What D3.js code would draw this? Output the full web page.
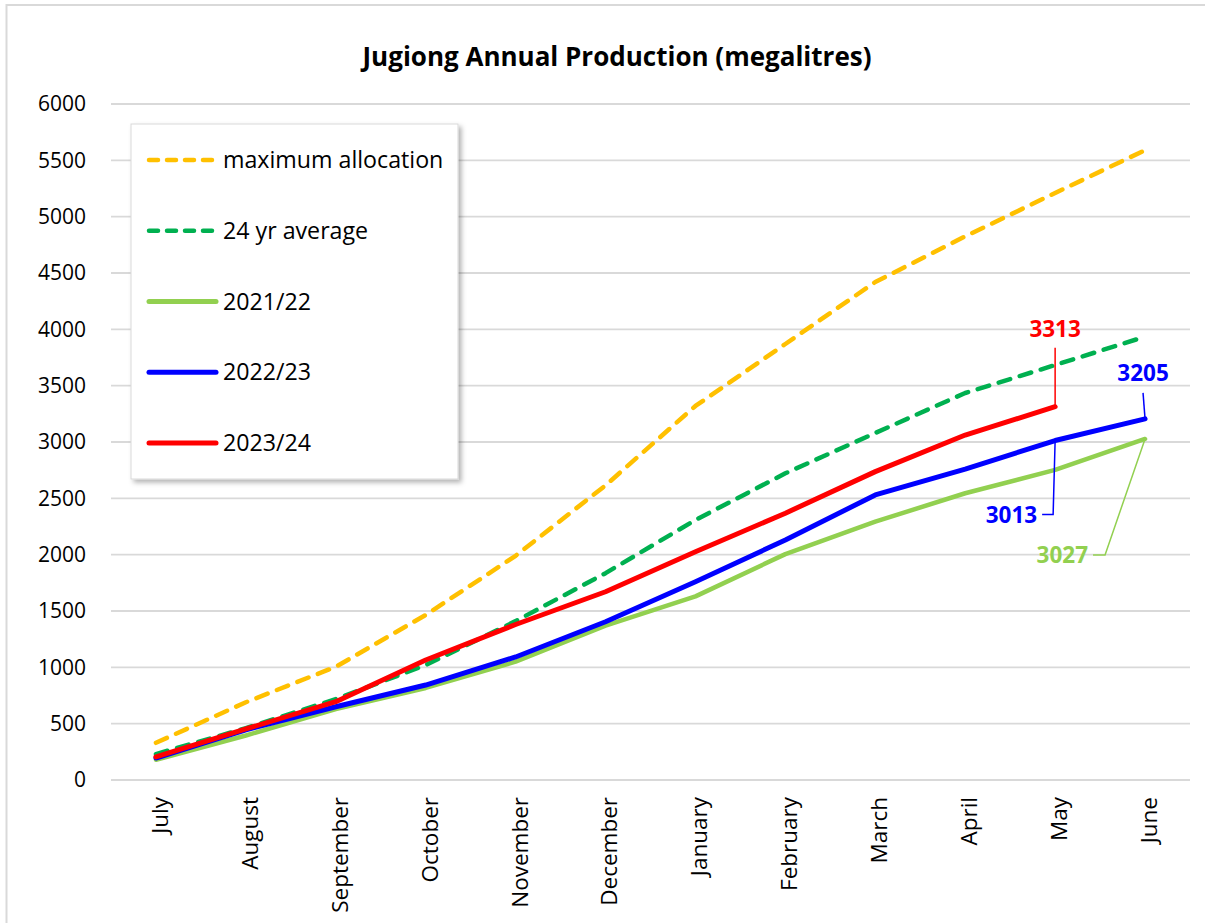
<!DOCTYPE html>
<html>
<head>
<meta charset="utf-8">
<script src="https://cdn.jsdelivr.net/npm/d3@7"></script>
<style>
  html, body { margin: 0; padding: 0; background: #fff; }
  svg { display: block; }
  text { font-family: "Open Sans", "Liberation Sans", sans-serif; }
</style>
</head>
<body>
<svg id="chart" width="1205" height="923"></svg>
<script>
const months = ["July","August","September","October","November","December","January","February","March","April","May","June"];
const yTicks = [0,500,1000,1500,2000,2500,3000,3500,4000,4500,5000,5500,6000];
const maxAllocation = [330, 690, 1005, 1465, 1990, 2615, 3320, 3870, 4420, 4825, 5210, 5590];
const avg24 = [230, 460, 718, 1020, 1410, 1836, 2308, 2722, 3080, 3435, 3683, 3935];
const y2021_22 = [180, 395, 630, 817, 1050, 1370, 1630, 2005, 2293, 2545, 2752, 3027];
const y2022_23 = [195, 445, 650, 843, 1092, 1405, 1760, 2130, 2530, 2760, 3013, 3205];
const y2023_24 = [205, 453, 695, 1065, 1380, 1671, 2026, 2368, 2737, 3062, 3313];
const seriesNames = ["maximum allocation", "24 yr average", "2021/22", "2022/23", "2023/24"];
const title = "Jugiong Annual Production (megalitres)";

const svg = d3.select("#chart");
const plot = {left: 111, right: 1190, top: 104, bottom: 780};

// outer chart border
svg.append("rect").attr("x", 6.5).attr("y", 5).attr("width", 1300).attr("height", 1000)
  .attr("fill", "#fff").attr("stroke", "#d9d9d9").attr("stroke-width", 2);

const x = d3.scaleBand().domain(months).range([plot.left, plot.right]);
const y = d3.scaleLinear().domain([0, 6000]).range([plot.bottom, plot.top]);
const cx = m => x(m) + x.bandwidth() / 2;

// gridlines
svg.append("g").selectAll("line").data(yTicks).join("line")
  .attr("x1", plot.left).attr("x2", plot.right)
  .attr("y1", d => y(d)).attr("y2", d => y(d))
  .attr("stroke", "#d9d9d9").attr("stroke-width", 1.8);

// y axis labels
const yAxis = d3.axisLeft(y).tickValues(yTicks).tickSize(0).tickPadding(0).tickFormat(d3.format("d"));
const yg = svg.append("g").attr("transform", `translate(${plot.left - 25},0)`).call(yAxis);
yg.select(".domain").remove();
yg.selectAll("text").attr("font-size", 21).attr("fill", "#000")
  .style("font-family", '"Open Sans", sans-serif');

// x axis labels
const xAxis = d3.axisBottom(x).tickSize(0).tickPadding(0);
const xg = svg.append("g").attr("transform", `translate(0,${plot.bottom})`).call(xAxis);
xg.select(".domain").remove();
xg.selectAll("text")
  .attr("font-size", 22.5).attr("fill", "#000")
  .style("font-family", '"Open Sans", sans-serif')
  .attr("text-anchor", "end")
  .attr("transform", "translate(4,17) rotate(-90)")
  .attr("x", 0).attr("y", 0).attr("dy", "0.35em");

// lines
const line = d3.line().x((d, i) => cx(months[i])).y(d => y(d));
const series = [
  {name: seriesNames[0], data: maxAllocation, color: "#FFC000", dash: "12,10", width: 4.5},
  {name: seriesNames[1], data: avg24, color: "#00B050", dash: "12,10", width: 4.5},
  {name: seriesNames[2], data: y2021_22, color: "#92D050", dash: null, width: 4.5},
  {name: seriesNames[3], data: y2022_23, color: "#0000FF", dash: null, width: 5},
  {name: seriesNames[4], data: y2023_24, color: "#FF0000", dash: null, width: 5},
];
svg.append("g").selectAll("path").data(series).join("path")
  .attr("d", s => line(s.data))
  .attr("fill", "none")
  .attr("stroke", s => s.color)
  .attr("stroke-width", s => s.width)
  .attr("stroke-dasharray", s => s.dash)
  .attr("stroke-linecap", "round")
  .attr("stroke-linejoin", "round");

// data labels with leader lines
const labels = [
  {value: y2023_24[10], month: "May", color: "#FF0000",
   leader: [[0,0],[0,-59]], tx: 0, ty: -70, anchor: "middle"},
  {value: y2022_23[11], month: "June", color: "#0000FF",
   leader: [[0,0],[-2,-26]], tx: -2, ty: -38, anchor: "middle"},
  {value: y2022_23[10], month: "May", color: "#0000FF",
   leader: [[0,0],[-2,74],[-13,74]], tx: -18, ty: 82, anchor: "end"},
  {value: y2021_22[11], month: "June", color: "#92D050",
   leader: [[0,0],[-40,116],[-52,116]], tx: -57, ty: 124, anchor: "end"},
];
const lg = svg.append("g");
labels.forEach(l => {
  const px = cx(l.month), py = y(l.value);
  lg.append("path")
    .attr("d", d3.line()(l.leader.map(p => [px + p[0], py + p[1]])))
    .attr("fill", "none").attr("stroke", l.color).attr("stroke-width", 1.5);
  lg.append("text")
    .attr("x", px + l.tx).attr("y", py + l.ty)
    .attr("text-anchor", l.anchor)
    .attr("font-size", 22.5).attr("font-weight", "bold").attr("fill", l.color)
    .text(l.value);
});

// title
svg.append("text").attr("x", 617).attr("y", 66).attr("text-anchor", "middle")
  .attr("font-size", 26).attr("font-weight", "bold").attr("fill", "#000")
  .text(title);

// legend
const defs = svg.append("defs");
const f = defs.append("filter").attr("id", "shadow").attr("x", "-10%").attr("y", "-10%").attr("width", "130%").attr("height", "130%");
f.append("feDropShadow").attr("dx", 3).attr("dy", 3).attr("stdDeviation", 2.5)
  .attr("flood-color", "#000").attr("flood-opacity", 0.3);

const legend = svg.append("g");
legend.append("rect").attr("x", 131).attr("y", 124).attr("width", 327).attr("height", 355)
  .attr("fill", "#fff").attr("stroke", "#d9d9d9").attr("stroke-width", 1)
  .attr("filter", "url(#shadow)");
const legendY = d3.scalePoint().domain(seriesNames).range([160, 443]);
const items = legend.selectAll("g.item").data(series).join("g").attr("class", "item")
  .attr("transform", s => `translate(0,${legendY(s.name)})`);
items.append("line").attr("x1", 149).attr("x2", 216).attr("y1", 0).attr("y2", 0)
  .attr("stroke", s => s.color).attr("stroke-width", s => s.dash ? 4.5 : 5)
  .attr("stroke-dasharray", s => s.dash ? "9,9" : null)
  .attr("stroke-linecap", "round");
items.append("text").attr("x", 223).attr("y", 0).attr("dy", "0.35em")
  .attr("font-size", 23.2).attr("fill", "#000").text(s => s.name);
</script>
</body>
</html>
